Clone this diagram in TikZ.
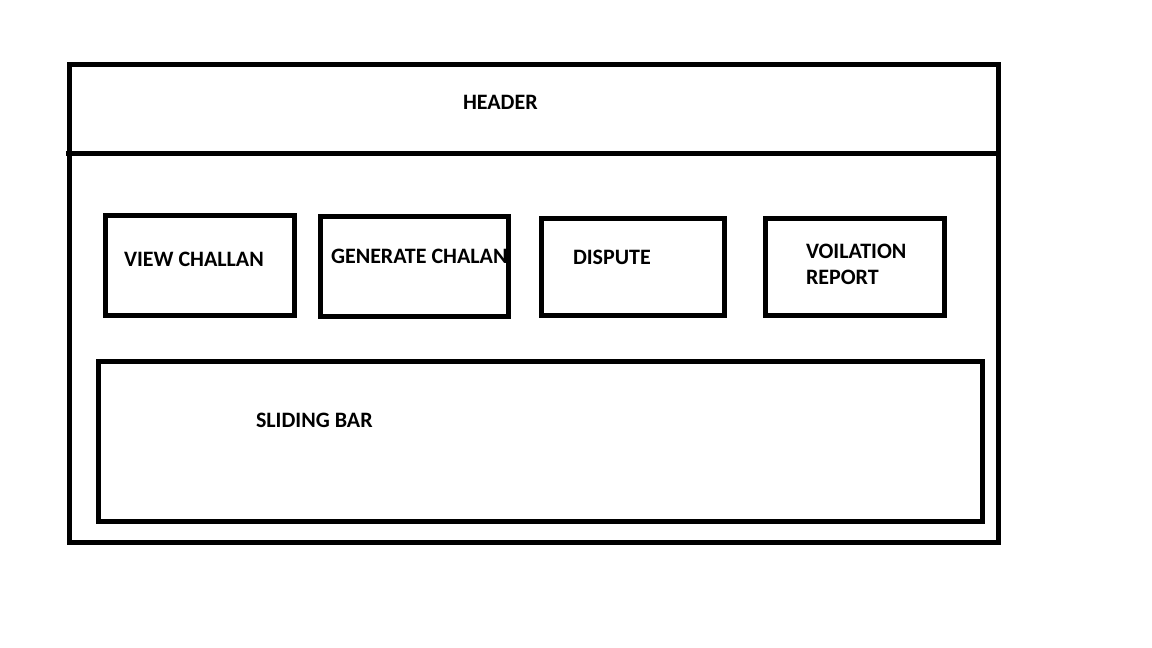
\documentclass[tikz,border=0pt]{standalone}
\usepackage{fontspec}
\setmainfont{Carlito}
\begin{document}
\begin{tikzpicture}[x=1pt,y=-1pt,
  frame/.style={draw=black,line width=5pt,anchor=north west,inner sep=0pt,outer sep=0pt},
  lbl/.style={anchor=west,inner sep=0pt,outer sep=0pt,font=\fontsize{22}{24}\selectfont\bfseries}]
\useasboundingbox[fill=white] (0,0) rectangle (1152,648);
% labels (drawn first so borders lie over them, as in the reference)
\node[lbl] (theader) at (463,102) {HEADER};
\node[lbl] (tview) at (124,259) {VIEW CHALLAN};
\node[lbl] (tgen) at (331,256) {GENERATE CHALAN};
\node[lbl] (tdisp) at (573,257) {DISPUTE};
\node[lbl] (tvoil) at (806,251) {VOILATION};
\begin{scope}
  \clip (790,262) rectangle (930,284);
  \node[lbl] (trep) at (806,277) {REPORT};
\end{scope}
\node[lbl] (tslide) at (256,420) {SLIDING BAR};
% frames
\node[frame,minimum width=929pt,minimum height=478pt] (outer) at (69,64) {};
\coordinate (hl) at (66,153);
\coordinate (hr) at (998,153);
\draw[line width=5pt] (hl) -- (hr);
\node[frame,minimum width=189pt,minimum height=100pt] (view) at (105,215) {};
\node[frame,minimum width=188pt,minimum height=100pt] (gen) at (320,216) {};
\node[frame,minimum width=183pt,minimum height=97pt] (disp) at (541,218) {};
\node[frame,minimum width=179pt,minimum height=97pt] (voil) at (765,218) {};
\node[frame,minimum width=884pt,minimum height=160pt] (slide) at (98,361) {};
\end{tikzpicture}
\end{document}
